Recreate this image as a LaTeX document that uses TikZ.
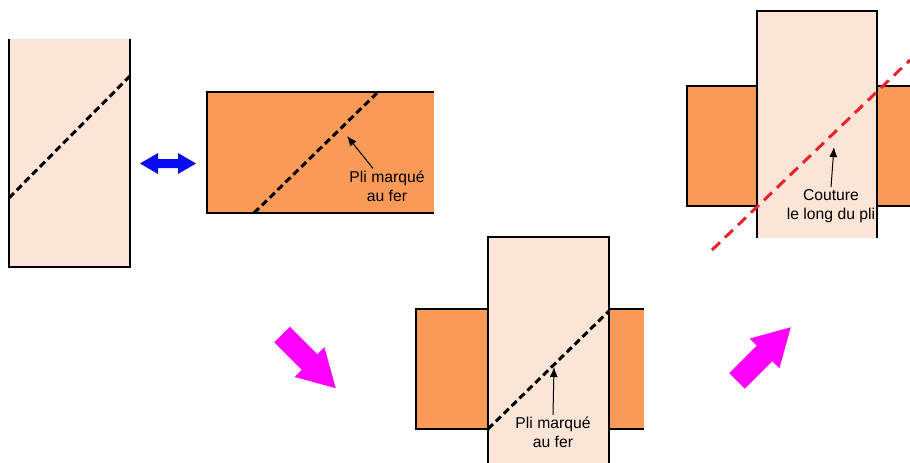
\documentclass[tikz,border=0pt]{standalone}
\usepackage{fontspec}
\setmainfont{Liberation Sans}
\usetikzlibrary{arrows.meta}
\definecolor{peach}{HTML}{FCE4D6}
\definecolor{fabric}{HTML}{FA9A57}
\definecolor{seam}{HTML}{E8212B}
\definecolor{pink}{RGB}{255,0,255}
\definecolor{flipblue}{RGB}{10,10,245}
\tikzset{
  piece/.style={draw=black, line width=1.3pt},
  fold/.style={black, line width=3pt, dash pattern=on 7pt off 4pt},
  stitch/.style={seam, line width=3pt, dash pattern=on 11pt off 7pt},
  note/.style={font=\fontsize{15.7}{19}\selectfont, align=center, inner sep=2pt},
  pointer/.style={-{Latex[length=10pt,width=8pt]}, line width=1pt},
  bigarrow/.pic={\fill[pink] (0,-11) -- (39,-11) -- (39,-21) -- (76,0) -- (39,21) -- (39,11) -- (0,11) -- cycle;}
}
\begin{document}
\begin{tikzpicture}[x=1pt,y=-1pt]
\useasboundingbox (0,0) rectangle (910,463);

%draw first piece (light)
\fill[peach] (9,39) rectangle (130,267);
\draw[piece] (9,39) -- (9,267) -- (130,267) -- (130,39);
\draw[fold] (9,198) -- (130,76);

%draw blue double arrow
\fill[flipblue] (140,163.5) -- (158,153) -- (158,159) -- (178,159) -- (178,153) -- (196,163.5)
  -- (178,174) -- (178,168) -- (158,168) -- (158,174) -- cycle;

%draw second piece (orange)
\fill[fabric] (207,92) rectangle (434,213);
\draw[piece] (434,92) -- (207,92) -- (207,213) -- (434,213);
\draw[fold] (254,213) -- (377,93);
\coordinate (fold1) at (347,136);
\node[note] (lbl1) at (387,186) {Pli marqué\\au fer};
\draw[pointer] ([xshift=-14pt]lbl1.north) -- (fold1);

%draw magenta arrows
\pic[rotate=-45] at (282,334.5) {bigarrow};
\pic[rotate=45] at (737,381) {bigarrow};

%draw middle assembly
\fill[fabric] (416,309) rectangle (488,429);
\draw[piece] (416,309) rectangle (488,429);
\fill[fabric] (609,309) rectangle (644,429);
\draw[piece] (609,309) -- (644,309) (609,429) -- (644,429);
\fill[peach] (488,237) rectangle (609,463);
\draw[piece] (488,463) -- (488,237) -- (609,237) -- (609,463);
\draw[fold] (488,429) -- (609,311);
\coordinate (fold2) at (554,367);
\node[note] (lbl2) at (553,432.5) {Pli marqué\\au fer};
\draw[pointer] (lbl2.north) -- (fold2);

%draw right assembly
\fill[fabric] (687,86) rectangle (757,206);
\draw[piece] (687,86) rectangle (757,206);
\fill[fabric] (877,86) rectangle (910,206);
\draw[piece] (877,86) -- (910,86) (877,206) -- (910,206);
\fill[peach] (757,11) rectangle (877,238);
\draw[piece] (757,238) -- (757,11) -- (877,11) -- (877,238);
\draw[stitch] (712,250) -- (910,60);
\coordinate (seam1) at (834,147);
\node[note] (lbl3) at (831,206) {Couture\\le long du pli};
\draw[pointer] (lbl3.north) -- (seam1);
\end{tikzpicture}
\end{document}
